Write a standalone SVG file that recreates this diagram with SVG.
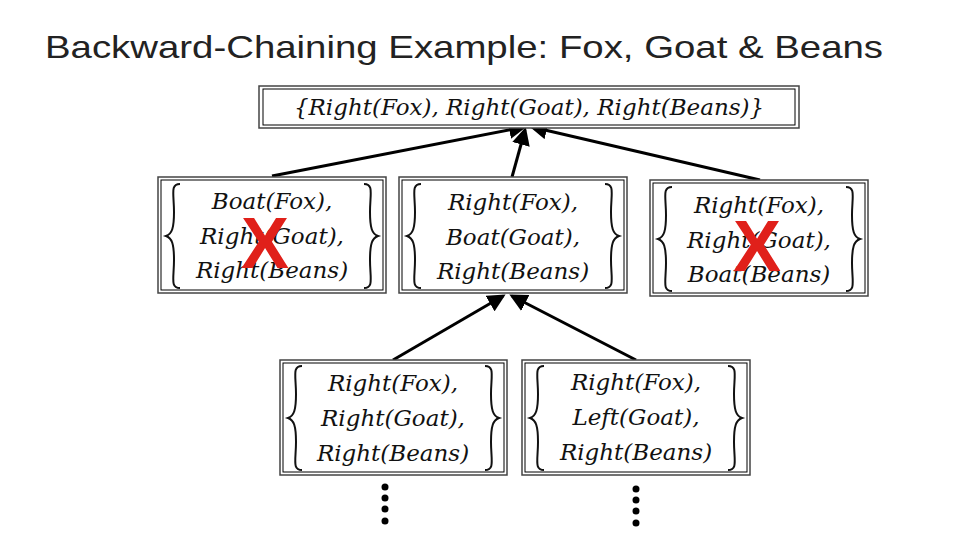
<svg xmlns="http://www.w3.org/2000/svg" width="960" height="540" viewBox="0 0 960 540">
<style>
.box{fill:#fff;stroke:#444;stroke-width:1.5}
.inner{fill:none;stroke:#000;stroke-width:1}
.m{font-family:"DejaVu Serif","Liberation Serif",serif;font-style:italic;font-size:23px;fill:#111;text-anchor:middle}
.br{fill:none;stroke:#111;stroke-width:2}
.x{font-family:"Liberation Sans",sans-serif;font-weight:bold;font-size:72px;fill:#e0201a;text-anchor:middle}
.c{stroke:#000;stroke-width:3;marker-end:url(#a)}
</style>
<defs>
<marker id="a" markerWidth="6" markerHeight="6" refX="5" refY="3" orient="auto" markerUnits="strokeWidth"><path d="M0,0L6,3L0,6z" fill="#000"/></marker>
<path id="lb" d="M14,0 C4,0 8,10 8,28 C8,44 6,50 0,52 C6,54 8,60 8,76 C8,94 4,104 14,104"/>
</defs>
<rect width="960" height="540" fill="#fff"/>
<text x="45" y="58" font-family="Liberation Sans,sans-serif" font-size="32" textLength="838" lengthAdjust="spacingAndGlyphs" fill="#222">Backward-Chaining Example: Fox, Goat &amp; Beans</text>
<g id="connectors">
<line class="c" x1="272" y1="176" x2="524" y2="127"/>
<line class="c" x1="512" y1="177" x2="525" y2="130"/>
<line class="c" x1="760" y1="180" x2="532" y2="127"/>
<line class="c" x1="393" y1="360" x2="503" y2="296"/>
<line class="c" x1="636" y1="360" x2="512" y2="296"/>
</g>
<g id="goal">
<rect class="box" x="259" y="86" width="540" height="42"/>
<rect class="inner" x="263" y="89" width="532" height="36"/>
<text class="m" x="529" y="115">{Right(Fox), Right(Goat), Right(Beans)}</text>
</g>
<g id="n1">
<rect class="box" x="158" y="177" width="228" height="116"/>
<rect class="inner" x="161" y="180" width="222" height="110"/>
<use href="#lb" class="br" x="166" y="184"/>
<use href="#lb" class="br" transform="translate(378,184) scale(-1,1)"/>
<text class="m" x="272" y="209">Boat(Fox),</text>
<text class="m" x="272" y="244">Right(Goat),</text>
<text class="m" x="272" y="278">Right(Beans)</text>
<text class="x" x="265" y="268">X</text>
</g>
<g id="n2">
<rect class="box" x="399" y="177" width="228" height="116"/>
<rect class="inner" x="402" y="180" width="222" height="110"/>
<use href="#lb" class="br" x="407" y="184"/>
<use href="#lb" class="br" transform="translate(619,184) scale(-1,1)"/>
<text class="m" x="513" y="210">Right(Fox),</text>
<text class="m" x="513" y="245">Boat(Goat),</text>
<text class="m" x="513" y="279">Right(Beans)</text>
</g>
<g id="n3">
<rect class="box" x="650" y="180" width="218" height="116"/>
<rect class="inner" x="653" y="183" width="212" height="110"/>
<use href="#lb" class="br" x="658" y="187"/>
<use href="#lb" class="br" transform="translate(860,187) scale(-1,1)"/>
<text class="m" x="759" y="213">Right(Fox),</text>
<text class="m" x="759" y="248">Right(Goat),</text>
<text class="m" x="759" y="282">Boat(Beans)</text>
<text class="x" x="757" y="271">X</text>
</g>
<g id="n4">
<rect class="box" x="280" y="360" width="227" height="115"/>
<rect class="inner" x="283" y="363" width="221" height="109"/>
<use href="#lb" class="br" x="288" y="366"/>
<use href="#lb" class="br" transform="translate(499,366) scale(-1,1)"/>
<text class="m" x="393" y="391">Right(Fox),</text>
<text class="m" x="393" y="426">Right(Goat),</text>
<text class="m" x="393" y="461">Right(Beans)</text>
</g>
<g id="n5">
<rect class="box" x="522" y="360" width="228" height="115"/>
<rect class="inner" x="525" y="363" width="222" height="109"/>
<use href="#lb" class="br" x="530" y="366"/>
<use href="#lb" class="br" transform="translate(742,366) scale(-1,1)"/>
<text class="m" x="636" y="390">Right(Fox),</text>
<text class="m" x="636" y="425">Left(Goat),</text>
<text class="m" x="636" y="460">Right(Beans)</text>
</g>
<g id="dots" fill="#000">
<circle cx="385" cy="487" r="3.5"/><circle cx="385" cy="498" r="3.5"/><circle cx="385" cy="509" r="3.5"/><circle cx="385" cy="521" r="3.5"/>
<circle cx="636" cy="489" r="3.5"/><circle cx="636" cy="500" r="3.5"/><circle cx="636" cy="511" r="3.5"/><circle cx="636" cy="523" r="3.5"/>
</g>
</svg>
